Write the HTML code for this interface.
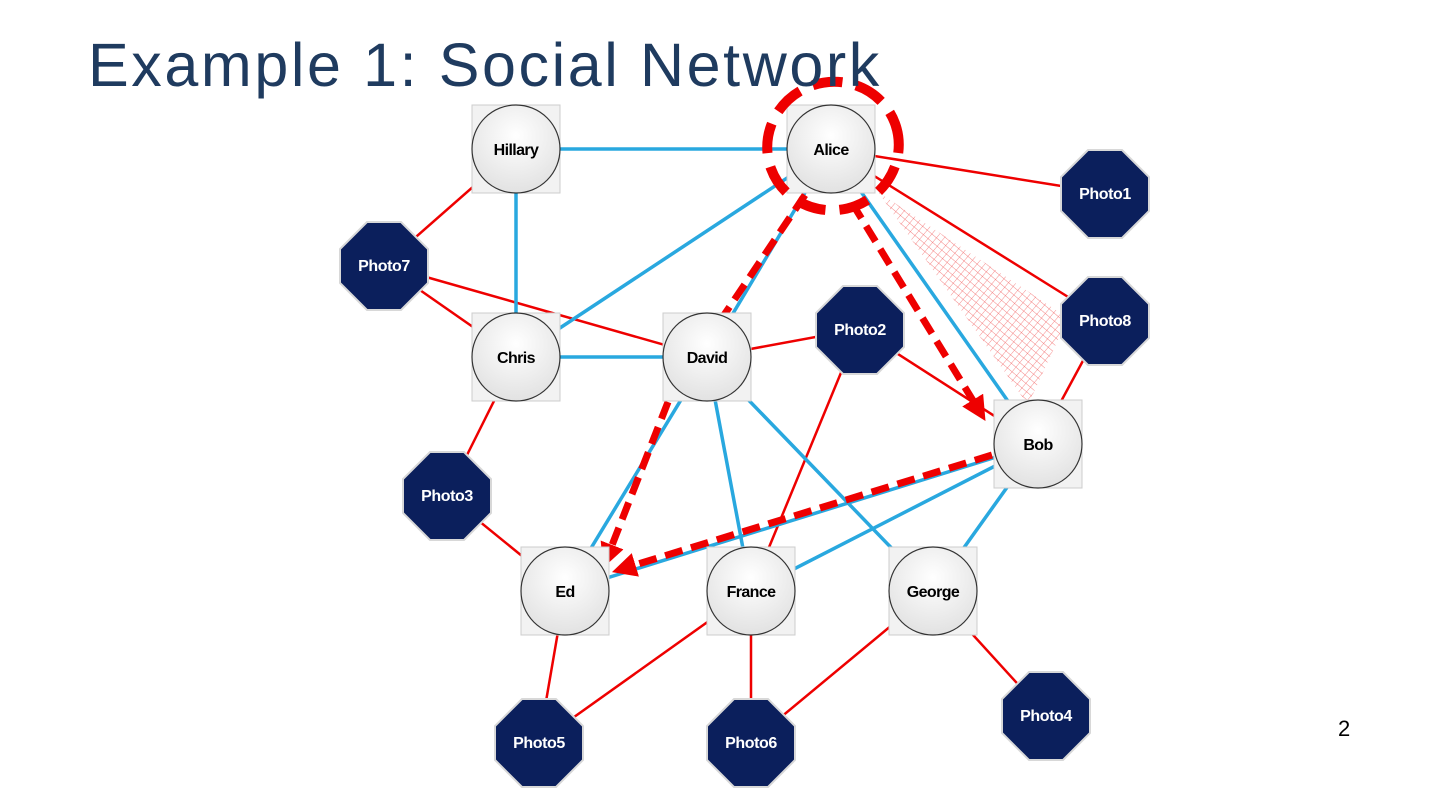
<!DOCTYPE html>
<html><head><meta charset="utf-8"><style>
body{margin:0;width:1440px;height:810px;background:#fff;overflow:hidden;font-family:"Liberation Sans",sans-serif}
h1{position:absolute;left:88px;top:30px;margin:0;font-weight:normal;font-size:61px;color:#1f3b5f;letter-spacing:2.6px}
.pg{position:absolute;left:1338px;top:716px;font-size:22px}
</style></head><body>
<svg width="1440" height="810" style="position:absolute;left:0;top:0">
<defs>
<radialGradient id="g" cx="50%" cy="35%" r="65%"><stop offset="0" stop-color="#fff"/><stop offset="1" stop-color="#e2e2e2"/></radialGradient>
<pattern id="h" width="6" height="6" patternUnits="userSpaceOnUse" patternTransform="rotate(40)"><path d="M0 0H6M0 0V6" stroke="#e33" stroke-width="0.7" fill="none"/></pattern>
<marker id="ar" markerWidth="3.5" markerHeight="3.5" refX="2" refY="1.75" orient="auto" markerUnits="strokeWidth"><path d="M0 0L3.5 1.75L0 3.5z" fill="#e00"/></marker>
</defs>
<polygon points="878,192 1068,318 1028,405" fill="url(#h)" opacity="0.8"/>
<g stroke="#e00" stroke-width="2.5">
<line x1="831" y1="149" x2="1105" y2="193"/><line x1="831" y1="149" x2="1105" y2="320"/>
<line x1="516" y1="149" x2="384" y2="265"/><line x1="384" y1="265" x2="516" y2="357"/><line x1="384" y1="265" x2="707" y2="357"/>
<line x1="707" y1="357" x2="859" y2="329"/><line x1="859" y1="329" x2="1038" y2="444"/><line x1="859" y1="329" x2="751" y2="591"/>
<line x1="1105" y1="320" x2="1038" y2="444"/><line x1="516" y1="357" x2="447" y2="495"/><line x1="447" y1="495" x2="565" y2="591"/>
<line x1="565" y1="591" x2="539" y2="742"/><line x1="751" y1="591" x2="539" y2="742"/><line x1="751" y1="591" x2="751" y2="742"/>
<line x1="933" y1="591" x2="751" y2="742"/><line x1="933" y1="591" x2="1046" y2="715"/>
</g>
<g stroke="#29a8df" stroke-width="3.5">
<line x1="516" y1="149" x2="831" y2="149"/><line x1="516" y1="149" x2="516" y2="357"/><line x1="831" y1="149" x2="516" y2="357"/>
<line x1="831" y1="149" x2="707" y2="357"/><line x1="831" y1="149" x2="1038" y2="444"/><line x1="516" y1="357" x2="707" y2="357"/>
<line x1="707" y1="357" x2="565" y2="591"/><line x1="707" y1="357" x2="751" y2="591"/><line x1="707" y1="357" x2="933" y2="591"/>
<line x1="1038" y1="444" x2="565" y2="591"/><line x1="1038" y1="444" x2="751" y2="591"/><line x1="1038" y1="444" x2="933" y2="591"/>
</g>
<g stroke="#e00" stroke-width="7" stroke-dasharray="18,9" fill="none">
<line x1="805" y1="195" x2="722" y2="318"/>
<line x1="668" y1="402" x2="607" y2="558" marker-end="url(#ar)"/>
<line x1="852" y1="203" x2="980" y2="412" marker-end="url(#ar)"/>
<line x1="992" y1="455" x2="622" y2="569" marker-end="url(#ar)"/>
</g>
<g fill="#f2f2f2" stroke="#ccc" stroke-width="1">
<rect x="472" y="105" width="88" height="88"/><rect x="787" y="105" width="88" height="88"/>
<rect x="472" y="313" width="88" height="88"/><rect x="663" y="313" width="88" height="88"/>
<rect x="994" y="400" width="88" height="88"/><rect x="521" y="547" width="88" height="88"/>
<rect x="707" y="547" width="88" height="88"/><rect x="889" y="547" width="88" height="88"/>
</g>
<g fill="url(#g)" stroke="#333" stroke-width="1.2">
<circle cx="516" cy="149" r="44"/><circle cx="831" cy="149" r="44"/><circle cx="516" cy="357" r="44"/><circle cx="707" cy="357" r="44"/>
<circle cx="1038" cy="444" r="44"/><circle cx="565" cy="591" r="44"/><circle cx="751" cy="591" r="44"/><circle cx="933" cy="591" r="44"/>
</g>
<ellipse cx="833" cy="146" rx="66" ry="64" fill="none" stroke="#e00" stroke-width="10" stroke-dasharray="30,14" transform="rotate(-20 833 146)"/>
<g fill="#0b1f5c" stroke="#d8d8d8" stroke-width="2">
<polygon points="-17,-44 17,-44 44,-17 44,17 17,44 -17,44 -44,17 -44,-17" transform="translate(1105,194)"/>
<polygon points="-17,-44 17,-44 44,-17 44,17 17,44 -17,44 -44,17 -44,-17" transform="translate(384,266)"/>
<polygon points="-17,-44 17,-44 44,-17 44,17 17,44 -17,44 -44,17 -44,-17" transform="translate(860,330)"/>
<polygon points="-17,-44 17,-44 44,-17 44,17 17,44 -17,44 -44,17 -44,-17" transform="translate(1105,321)"/>
<polygon points="-17,-44 17,-44 44,-17 44,17 17,44 -17,44 -44,17 -44,-17" transform="translate(447,496)"/>
<polygon points="-17,-44 17,-44 44,-17 44,17 17,44 -17,44 -44,17 -44,-17" transform="translate(539,743)"/>
<polygon points="-17,-44 17,-44 44,-17 44,17 17,44 -17,44 -44,17 -44,-17" transform="translate(751,743)"/>
<polygon points="-17,-44 17,-44 44,-17 44,17 17,44 -17,44 -44,17 -44,-17" transform="translate(1046,716)"/>
</g>
<g font-size="16" text-anchor="middle" fill="#000" font-weight="bold" letter-spacing="-0.6">
<text x="516" y="155">Hillary</text><text x="831" y="155">Alice</text><text x="516" y="363">Chris</text><text x="707" y="363">David</text>
<text x="1038" y="450">Bob</text><text x="565" y="597">Ed</text><text x="751" y="597">France</text><text x="933" y="597">George</text>
</g>
<g font-size="16" text-anchor="middle" fill="#fff" font-weight="bold" letter-spacing="-0.4">
<text x="1105" y="199">Photo1</text><text x="384" y="271">Photo7</text><text x="860" y="335">Photo2</text><text x="1105" y="326">Photo8</text>
<text x="447" y="501">Photo3</text><text x="539" y="748">Photo5</text><text x="751" y="748">Photo6</text><text x="1046" y="721">Photo4</text>
</g>
</svg>
<h1>Example 1: Social Network</h1>
<div class="pg">2</div>
</body></html>
